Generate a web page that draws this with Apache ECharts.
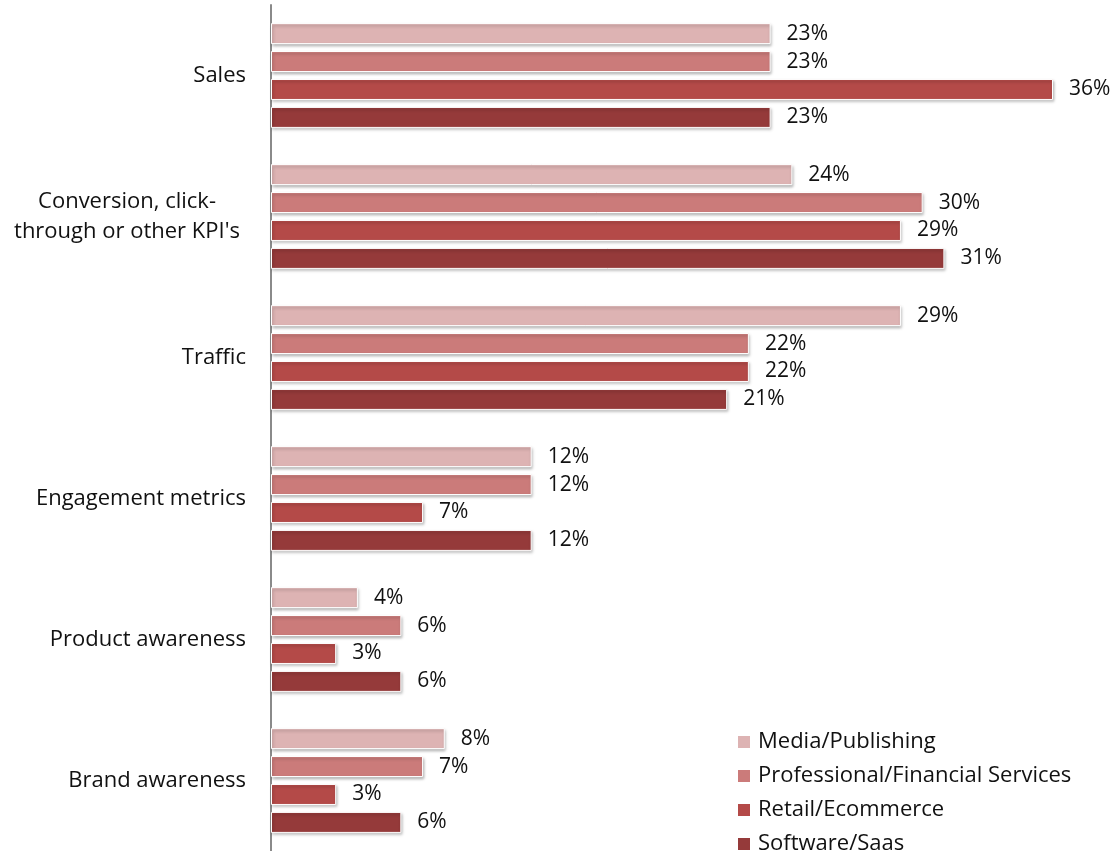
<!DOCTYPE html>
<html>
<head>
<meta charset="utf-8">
<script src="https://cdn.jsdelivr.net/npm/echarts@6/dist/echarts.min.js"></script>
<style>
  html, body { margin: 0; padding: 0; background: #fff; }
  #chart { width: 1119px; height: 851px; }
</style>
</head>
<body>
<div id="chart"></div>
<script>
// Goals by industry, percentage of respondents
const categories = ['Sales', "Conversion, click-\nthrough or other KPI's", 'Traffic', 'Engagement metrics', 'Product awareness', 'Brand awareness'];
const seriesNames = ['Media/Publishing', 'Professional/Financial Services', 'Retail/Ecommerce', 'Software/Saas'];
const mediaPublishing = [23, 24, 29, 12, 4, 8];
const professionalFinancial = [23, 30, 22, 12, 6, 7];
const retailEcommerce = [36, 29, 22, 7, 3, 3];
const softwareSaas = [23, 31, 21, 12, 6, 6];
const colors = ['#DDB3B3', '#CB7B7A', '#B44A48', '#953A3A'];

const FONT = '"Open Sans", Lato, sans-serif';
const seriesValues = [mediaPublishing, professionalFinancial, retailEcommerce, softwareSaas];

const chart = echarts.init(document.getElementById('chart'), null, { renderer: 'canvas' });

chart.setOption({
  animation: false,
  textStyle: { fontFamily: FONT },
  grid: { left: 271, right: 66, top: 5, bottom: 0, containLabel: false },
  xAxis: {
    type: 'value', min: 0, max: 36,
    show: false,
    splitLine: { show: false }
  },
  yAxis: {
    type: 'category',
    inverse: true,
    data: categories,
    axisLine: { show: true, lineStyle: { color: '#8a8a8a', width: 2 } },
    axisTick: { show: false },
    axisLabel: {
      margin: 25,
      color: '#111',
      fontSize: 22,
      fontFamily: FONT,
      formatter: function (v) {
        if (v.indexOf('\n') >= 0) {
          return v.split('\n').map(function (l) { return '{c|' + l + '}'; }).join('\n');
        }
        return v;
      },
      rich: {
        c: { width: 238, align: 'center', fontSize: 22, lineHeight: 30, color: '#111', fontFamily: FONT }
      }
    }
  },
  legend: {
    orient: 'vertical',
    left: 731,
    top: 726,
    height: 125,
    itemWidth: 14,
    itemHeight: 14,
    itemGap: 12,
    icon: 'rect',
    textStyle: { fontSize: 22, lineHeight: 22, color: '#111', fontFamily: FONT, padding: [0, 0, 0, 2] },
    data: seriesNames
  },
  series: seriesNames.map(function (name, i) {
    return {
      name: name,
      type: 'bar',
      data: seriesValues[i],
      barWidth: 21,
      barGap: '33%',
      itemStyle: {
        color: colors[i],
        borderColor: '#fff',
        borderWidth: 1,
        shadowColor: 'rgba(0,0,0,0.3)',
        shadowBlur: 3,
        shadowOffsetX: 1,
        shadowOffsetY: 2
      },
      label: {
        show: true,
        position: 'right',
        distance: 16,
        formatter: '{c}%',
        fontSize: 21,
        color: '#111',
        fontFamily: FONT
      }
    };
  })
});
</script>
</body>
</html>
